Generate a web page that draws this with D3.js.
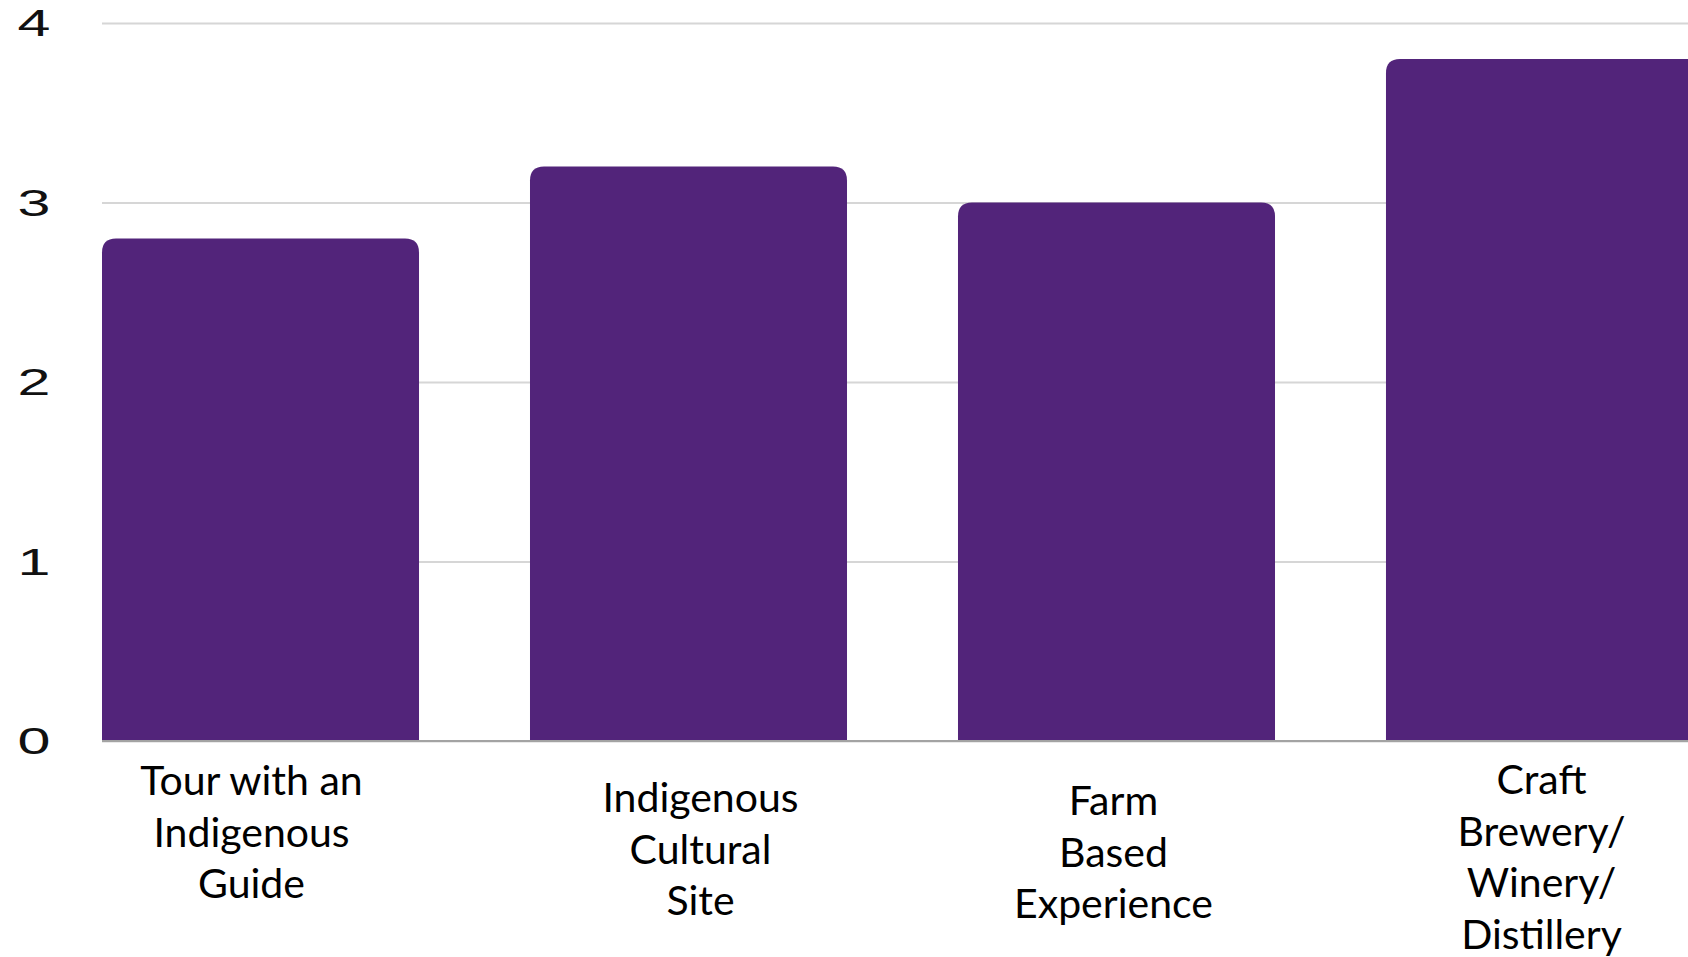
<!DOCTYPE html>
<html lang="en">

<head>
   <meta charset="UTF-8">
   <title>Experience ratings</title>
   <script src="https://d3js.org/d3.v7.min.js"></script>
   <style>
      body { margin: 0; background: #fff; }
   </style>
</head>

<body>
   <script>

      // data
      const categories = ['Tour with an Indigenous Guide', 'Indigenous Cultural Site', 'Farm Based Experience', 'Craft Brewery/Winery/Distillery'];
      const values = [2.8, 3.2, 3.0, 3.8];
      const tickLines = [
         ['Tour with an', 'Indigenous', 'Guide'],
         ['Indigenous', 'Cultural', 'Site'],
         ['Farm', 'Based', 'Experience'],
         ['Craft', 'Brewery/', 'Winery/', 'Distillery']
      ];
      const yTicks = [0, 1, 2, 3, 4];

      const W = 1688, H = 957;
      const purple = '#52247a';

      // the labels in the source sit a little unevenly under the bars
      const labelShift = [[-9, 795], [12, 812], [-3, 815], [-3, 794]];

      const svg = d3.select('body').append('svg').attr('width', W).attr('height', H);

      const y = d3.scaleLinear().domain([0, 4]).range([741, 23]);

      const x = d3.scaleBand()
         .domain(categories)
         .range([102, 1703])
         .paddingInner(0.2593)
         .paddingOuter(0);

      // gridlines
      svg.append('g')
         .attr('transform', 'translate(102,0)')
         .call(d3.axisLeft(y).tickValues(yTicks).tickSize(-(W - 102)).tickFormat(''))
         .call(g => g.select('.domain').remove())
         .call(g => g.selectAll('.tick line').attr('stroke', '#d6d6d6').attr('stroke-width', 2));

      // y labels (source is stretched sideways)
      svg.append('g').selectAll('text')
         .data(yTicks)
         .enter()
         .append('text')
         .attr('transform', d => `translate(34, ${y(d)}) scale(1.6, 1)`)
         .attr('text-anchor', 'middle')
         .attr('dy', '0.36em')
         .attr('font-family', 'Liberation Sans, Arial, sans-serif')
         .attr('font-size', 37)
         .attr('fill', '#111')
         .text(d => d);

      // bars with rounded top corners
      const r = 14;
      const barPath = (d, i) => {
         const x0 = x(categories[i]), x1 = x0 + x.bandwidth();
         const top = y(d), base = y(0);
         return `M${x0},${base}V${top + r}Q${x0},${top} ${x0 + r},${top}H${x1 - r}Q${x1},${top} ${x1},${top + r}V${base}Z`;
      };

      svg.append('g').selectAll('path')
         .data(values)
         .enter()
         .append('path')
         .attr('d', barPath)
         .attr('fill', purple);

      // baseline
      svg.append('line')
         .attr('x1', 102).attr('x2', W)
         .attr('y1', y(0)).attr('y2', y(0))
         .attr('stroke', '#a3a3a3')
         .attr('stroke-width', 2);

      // category labels
      const labels = svg.append('g').selectAll('text')
         .data(tickLines)
         .enter()
         .append('text')
         .attr('text-anchor', 'middle')
         .attr('font-family', 'Lato, sans-serif')
         .attr('font-size', 41)
         .attr('fill', '#000')
         .attr('x', (d, i) => x(categories[i]) + x.bandwidth() / 2 + labelShift[i][0])
         .attr('y', (d, i) => labelShift[i][1]);

      labels.selectAll('tspan')
         .data(d => d)
         .enter()
         .append('tspan')
         .attr('x', function () { return this.parentNode.getAttribute('x'); })
         .attr('dy', (d, j) => j === 0 ? 0 : 51.5)
         .text(d => d);

   </script>

</body>

</html>
